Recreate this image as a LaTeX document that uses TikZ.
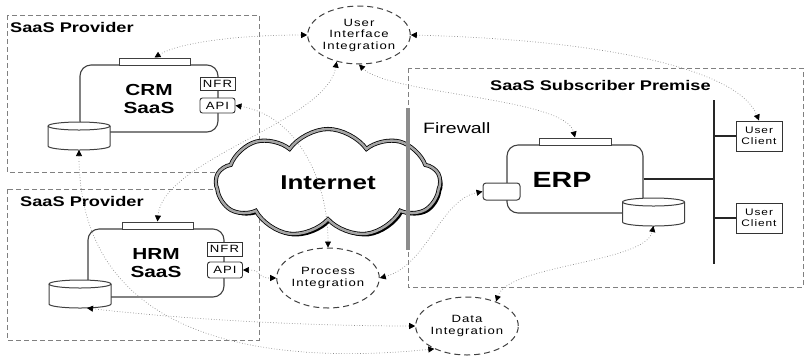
\documentclass[tikz,border=0pt]{standalone}
\usepackage{fontspec}
\setmainfont{Liberation Sans}[FakeStretch=1.3]
\newfontfamily\spaced{Liberation Sans}[FakeStretch=1.25,LetterSpace=10]
\usetikzlibrary{shapes.geometric,shapes.symbols,shadows,arrows.meta}

\tikzset{
  zone/.style={draw=black!50, line width=0.8pt, dash pattern=on 5pt off 3pt},
  zonename/.style={anchor=west, inner sep=0pt, font=\fontsize{14}{16}\selectfont\bfseries},
  app/.style={draw=black!75, line width=1.1pt, fill=white, rounded corners=11pt, inner sep=0pt, align=center, font=\fontsize{16}{18}\selectfont\bfseries},
  tab/.style={draw=black!75, line width=1pt, fill=white, inner sep=0pt, minimum width=71, minimum height=7},
  iface/.style={draw=black!80, line width=0.9pt, fill=white, inner sep=0pt, minimum width=35, font=\spaced\fontsize{10.5}{11}\selectfont},
  dbbox/.style={inner sep=0pt, outer sep=0pt, minimum width=62, minimum height=28},
  dbline/.style={draw=black!75, line width=1pt},
  integ/.style={ellipse, draw=black!75, line width=1pt, dash pattern=on 6pt off 4pt, fill=white, align=center, inner sep=0pt, minimum width=88, minimum height=58, font=\spaced\fontsize{10.5}{11.5}\selectfont},
  client/.style={draw=black!80, line width=1pt, fill=white, minimum width=46, minimum height=30, inner sep=0pt, align=center, font=\spaced\fontsize{9.5}{10.5}\selectfont},
  wire/.style={draw=black!85, line width=1.2pt},
  link/.style={draw=black!45, dotted, line width=0.7pt, >={Triangle[length=6pt,width=6pt,color=black]}, <->}
}

% database drum: name, x, y
\newcommand{\database}[3]{%
  \node[dbbox] (#1) at (#2,#3) {};
  \draw[dbline, fill=white] ([yshift=-4pt]#1.north west) -- ([yshift=4pt]#1.south west)
    arc[start angle=180, end angle=360, x radius=31pt, y radius=4pt]
    -- ([yshift=-4pt]#1.north east)
    arc[start angle=0, end angle=180, x radius=31pt, y radius=4pt] -- cycle;
  \draw[dbline] ([yshift=-4pt]#1.north west) arc[start angle=180, end angle=360, x radius=31pt, y radius=4pt];
}

\begin{document}
\begin{tikzpicture}[x=1pt,y=-1pt]
  \useasboundingbox (0,0) rectangle (805,360);

  % zones
  \draw[zone] (7,15) rectangle (259,172);
  \draw[zone] (7,189) rectangle (259,340);
  \draw[zone] (408,68) rectangle (803,287);
  \node[zonename] (prov1) at (10,27) {SaaS Provider};
  \node[zonename] (prov2) at (20,201) {SaaS Provider};
  \node[zonename] (premise) at (490,85) {SaaS Subscriber Premise};

  % internet and firewall
  \node[cloud, cloud puffs=9, cloud puff arc=110, aspect=2, minimum width=224, minimum height=108,
        draw=black, line width=0.8pt, double=black!35, double distance=2.5pt, fill=white,
        drop shadow={shadow xshift=2.5pt, shadow yshift=-2.5pt, fill=black, opacity=1},
        font=\fontsize{20}{22}\selectfont\bfseries] (net) at (328,183) {Internet};
  \draw[line width=4pt, black!45] (408,108) -- (408,250);
  \node[anchor=west, inner sep=0pt, font=\fontsize{15}{16}\selectfont] (fw) at (423,128) {Firewall};

  % CRM
  \node[app, minimum width=138, minimum height=67] (crm) at (149,98.5) {CRM\\SaaS};
  \node[tab] (crmtab) at (154.5,61.5) {};
  \node[iface, minimum height=13] (crmnfr) at (217.5,83.5) {NFR};
  \node[iface, minimum height=15, rounded corners=2.5pt] (crmapi) at (217.5,105.5) {API};
  \database{crmdb}{79}{136}

  % HRM
  \node[app, minimum width=136, minimum height=68] (hrm) at (156,263) {HRM\\SaaS};
  \node[tab] (hrmtab) at (157.5,225.5) {};
  \node[iface, minimum height=14] (hrmnfr) at (224.5,249) {NFR};
  \node[iface, minimum height=16, rounded corners=2.5pt] (hrmapi) at (225,270) {API};
  \database{hrmdb}{80}{294}

  % ERP
  \node[app, minimum width=136, minimum height=68] (erp) at (575,179) {};
  \node[inner sep=0pt, font=\fontsize{22}{24}\selectfont\bfseries] (erpname) at (562,180) {ERP};
  \node[tab, minimum width=72] (erptab) at (575,141.5) {};
  \database{erpdb}{653.5}{212}
  \node[draw=black!75, line width=1pt, fill=white, rounded corners=3pt, minimum width=37, minimum height=17, inner sep=0pt] (erpport) at (501.5,191.5) {};

  % clients on the bus
  \coordinate (bustop) at (714,100);
  \coordinate (busbot) at (714,264);
  \draw[line width=2.5pt, black!85] (bustop) -- (busbot);
  \draw[wire] (erp.east) -- (erp.east -| bustop);
  \foreach \n/\y in {1/136,2/218}{
    \node[client] (client\n) at (759,\y) {User\\Client};
    \draw[wire] (client\n.west) -- (client\n.west -| bustop);
  }

  % integration points
  \node[integ] (uii) at (359,35) {User\\Interface\\Integration};
  \node[integ, minimum width=89, minimum height=60] (pi) at (328,278) {Process\\Integration};
  \node[integ, minimum width=89] (di) at (467,326) {Data\\Integration};

  % links
  \draw[link] (crmtab.north) .. controls +(25,-15) and +(-70,0) .. (uii.west);
  \draw[link] (uii.east) .. controls +(200,5) and +(-20,-50) .. (client1.north);
  \draw[link] (uii.south) .. controls +(30,30) and +(-10,-40) .. (erptab.north);
  \draw[link] (uii.230) .. controls +(-10,60) and +(5,-62) .. (hrmtab.north);
  \draw[link] (crmapi.east) .. controls +(60,10) and +(0,-70) .. (pi.north);
  \draw[link] (crmdb.south) .. controls +(0,200) and +(-150,15) .. (di.215);
  \draw[link] ([xshift=7]hrmdb.south) .. controls +(100,12) and +(-100,0) .. (di.west);
  \draw[link] (hrmapi.east) .. controls +(20,0) and +(-20,0) .. (pi.west);
  \draw[link] (pi.east) .. controls +(48,-13) and +(-43,9) .. (erpport.west);
  \draw[link] (di.40) .. controls +(12,-37) and +(-8,37) .. (erpdb.south);
\end{tikzpicture}
\end{document}
